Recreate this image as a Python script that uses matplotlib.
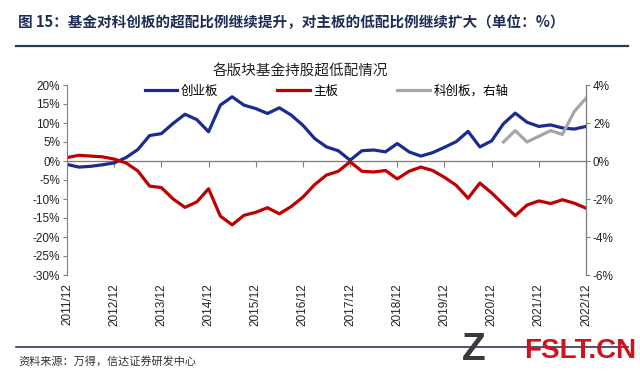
import numpy as np
import pandas as pd
from matplotlib import pyplot as plt
from matplotlib.ticker import FuncFormatter

plt.rcParams['font.family'] = ['Liberation Sans', 'Noto Sans CJK SC', 'DejaVu Sans']
plt.rcParams['axes.unicode_minus'] = False

# quarterly data, 2011Q4 .. 2022Q4
quarters = pd.period_range('2011Q4', '2022Q4', freq='Q')
tick_labels = ['2011/12', '2012/12', '2013/12', '2014/12', '2015/12', '2016/12',
               '2017/12', '2018/12', '2019/12', '2020/12', '2021/12', '2022/12']

chinext = [-0.9, -1.6, -1.4, -1.0, -0.5, 0.9, 3.0, 6.7, 7.2, 9.9, 12.3, 10.9,
           7.7, 14.7, 16.9, 14.7, 13.8, 12.5, 14.0, 12.1, 9.4, 5.9, 3.7, 2.7,
           0.2, 2.7, 2.9, 2.4, 4.6, 2.4, 1.3, 2.2, 3.6, 5.1, 7.8, 3.7,
           5.3, 9.8, 12.6, 10.2, 9.1, 9.5, 8.7, 8.4, 9.1]
main_board = [0.9, 1.5, 1.3, 1.1, 0.5, -0.5, -2.6, -6.6, -7.0, -10.0, -12.2, -10.8,
              -7.3, -14.5, -16.8, -14.3, -13.5, -12.3, -13.9, -12.0, -9.5, -6.2, -3.7, -2.7,
              -0.2, -2.7, -2.9, -2.5, -4.7, -2.7, -1.6, -2.5, -4.3, -6.4, -9.8, -5.8,
              -8.4, -11.4, -14.4, -11.6, -10.5, -11.2, -10.2, -11.1, -12.4]
star_start = 37  # 科创板 series begins here
star = [1.0, 1.6, 1.0, 1.3, 1.6, 1.4, 2.6, 3.3]

x = np.arange(len(quarters))
x_star = x[star_start:]

fig = plt.figure(figsize=(6.4, 3.71), dpi=100)
ax = fig.add_axes([67 / 640, 1 - 275 / 371, (586 - 67) / 640, (275 - 85) / 371])
ax2 = ax.twinx()

l1, = ax.plot(x, chinext, color='#1c2b8f', lw=2.3, label='创业板')
l2, = ax.plot(x, main_board, color='#c00000', lw=2.3, label='主板')
l3, = ax2.plot(x_star, star, color='#a6a6a6', lw=2.3, label='科创板，右轴')

ax.set_xlim(0, len(x) - 1)
ax.set_ylim(-30, 20)
ax2.set_ylim(-6, 4)
ax.set_yticks(np.arange(-30, 21, 5))
ax2.set_yticks(np.arange(-6, 5, 2))
pct = FuncFormatter(lambda v, p: f'{v:.0f}%')
ax.yaxis.set_major_formatter(pct)
ax2.yaxis.set_major_formatter(pct)

# x axis line crosses at zero, labels at bottom
for a in (ax, ax2):
    a.spines['top'].set_visible(False)
    a.spines['bottom'].set_visible(False)
ax.spines['left'].set_color('#808080')
ax2.spines['right'].set_color('#808080')
ax2.spines['left'].set_visible(False)
ax.axhline(0, color='#808080', lw=0.8, zorder=1)

ticks = x[::4]
ax.set_xticks(ticks)
ax.tick_params(axis='x', length=0, labelbottom=False)
sec = ax.secondary_xaxis('bottom')
sec.set_xticks(ticks, tick_labels, rotation=90, fontsize=8.5, color='#222222')
sec.tick_params(length=0, pad=6)
sec.spines['bottom'].set_visible(False)
zero_ax = ax.secondary_xaxis(0.6)
zero_ax.set_xticks(ticks[1:], [''] * len(ticks[1:]))
zero_ax.tick_params(direction='in', length=4, color='#808080')
zero_ax.spines['bottom'].set_visible(False)

ax.tick_params(axis='y', direction='out', length=3, color='#808080',
               labelsize=8.5, labelcolor='#222222', pad=2)
ax2.tick_params(axis='y', direction='out', length=3, color='#808080',
                labelsize=8.5, labelcolor='#222222', pad=2)

leg = ax.legend(handles=[l1, l2, l3], loc='upper center', bbox_to_anchor=(0.5, 1.06),
                ncol=3, frameon=False, handlelength=2.6, columnspacing=4.7,
                handletextpad=0.3, prop={'family': 'Noto Sans CJK SC', 'size': 9})

fig.text(300 / 640, 1 - 72 / 371, '各版块基金持股超低配情况', ha='center', va='center',
         fontsize=10.5, family='Noto Sans CJK SC', color='#222222')

fig.text(18 / 640, 1 - 22 / 371,
         '图 15：基金对科创板的超配比例继续提升，对主板的低配比例继续扩大（单位：%）',
         ha='left', va='center', fontsize=10.5, fontweight='bold',
         family='Noto Sans CJK SC', color='#1f2d55')
fig.add_artist(plt.Line2D([16 / 640, 628 / 640], [1 - 46 / 371] * 2,
                          color='#2b3a55', lw=1.6))
fig.add_artist(plt.Line2D([16 / 640, 628 / 640], [1 - 347 / 371] * 2,
                          color='#2b3a55', lw=1.2))
fig.text(18 / 640, 1 - 361 / 371, '资料来源：万得，信达证券研发中心', ha='left', va='center',
         fontsize=8, style='italic', family='Noto Sans CJK SC', color='#333333')

# watermark
fig.text(462 / 640, 1 - 350 / 371, 'Z', ha='left', va='center', fontsize=28,
         fontweight='bold', color='#3a3a3a')
fig.text(636 / 640, 1 - 351 / 371, 'FSLT.CN', ha='right', va='center', fontsize=20,
         fontweight='bold', color='#d0121b')

fig.savefig('out.png', dpi=100)
